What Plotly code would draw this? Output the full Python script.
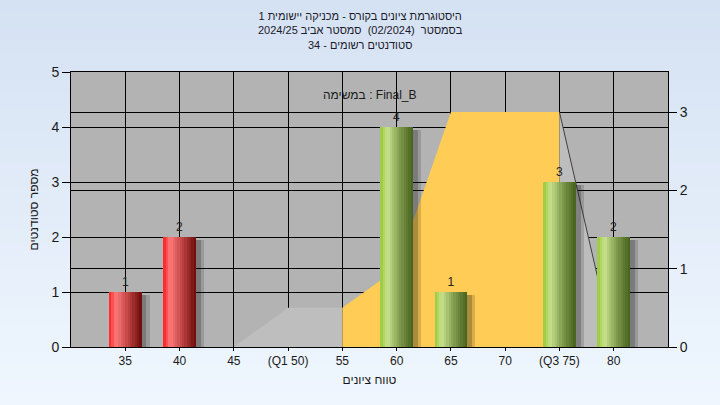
import plotly.graph_objects as go
from plotly.colors import sample_colorscale

# ---------------- data ----------------
grade_bins = [35, 40, 45, 50, 55, 60, 65, 70, 75, 80]
tick_labels = ["35", "40", "45", "(Q1 50)", "55", "60", "65", "70", "(Q3 75)", "80"]
student_counts = [1, 2, 0, 0, 0, 4, 1, 0, 3, 2]
bar_group = ["fail", "fail", "fail", "fail", "fail", "pass", "pass", "pass", "pass", "pass"]

dist_x = [45, 50, 55, 60, 65, 70, 75, 80]
dist_y = [0, 0.5, 0.5, 1, 3, 3, 3, 0]
band_low, band_high = 55, 75

title_lines = [
    "היסטוגרמת ציונים בקורס - מכניקה יישומית 1",
    "בסמסטר \u00a0(02/2024) \u00a0סמסטר אביב 2024/25",
    "סטודנטים רשומים - 34",
]
task_label = "במשימה : Final_B"
y_title = "מספר סטודנטים"
x_title = "טווח ציונים"

# ---------------- styling ----------------
FONT = "Arial, Liberation Sans, DejaVu Sans, sans-serif"
W, H = 720, 405
ML, MR, MT, MB = 71, 52, 72, 58
BAR_W = 3.0
N_STRIPES = 14

red_scale = [[0, "#ff1c1c"], [0.2, "#ff7b7b"], [0.55, "#c44848"], [1, "#6c0a0a"]]
green_scale = [[0, "#98c838"], [0.22, "#c8e28e"], [0.6, "#7e9a4c"], [1, "#45601c"]]

fig = go.Figure()

# distribution area on primary axis 'y' (drawn on the right side)
lo = dist_x.index(band_low)
hi = dist_x.index(band_high)
fig.add_trace(go.Scatter(x=dist_x[:lo + 1], y=dist_y[:lo + 1], mode="lines",
                         fill="tozeroy", fillcolor="#bebebe",
                         line=dict(color="rgba(0,0,0,0)", width=0),
                         hoverinfo="skip", showlegend=False, yaxis="y"))
fig.add_trace(go.Scatter(x=dist_x[lo:hi + 1], y=dist_y[lo:hi + 1], mode="lines",
                         fill="tozeroy", fillcolor="#ffcc55",
                         line=dict(color="rgba(0,0,0,0)", width=0),
                         hoverinfo="skip", showlegend=False, yaxis="y"))
fig.add_trace(go.Scatter(x=dist_x[hi:], y=dist_y[hi:], mode="lines",
                         fill="tozeroy", fillcolor="#bdbdbd",
                         line=dict(color="#404040", width=1),
                         hoverinfo="skip", showlegend=False, yaxis="y"))

# bar shadows
for off, alpha in [(-1.5 + 0.75, 0.16), (-1.5 + 0.45, 0.22)]:
    fig.add_trace(go.Bar(x=grade_bins, y=[max(v - 0.06, 0) for v in student_counts],
                         offset=off, width=BAR_W,
                         marker=dict(color=f"rgba(20,20,20,{alpha})", line=dict(width=0)),
                         hoverinfo="skip", showlegend=False, yaxis="y2"))

# gradient bars drawn as thin stripes
sw = BAR_W / N_STRIPES
for i in range(N_STRIPES):
    t = (i + 0.5) / N_STRIPES
    rc = sample_colorscale(red_scale, [t])[0]
    gc = sample_colorscale(green_scale, [t])[0]
    cols = [rc if g == "fail" else gc for g in bar_group]
    fig.add_trace(go.Bar(x=grade_bins, y=student_counts,
                         offset=-BAR_W / 2 + i * sw, width=sw * 1.08,
                         marker=dict(color=cols, line=dict(width=0)),
                         hoverinfo="skip", showlegend=False, yaxis="y2"))

# value labels
fig.add_trace(go.Bar(x=grade_bins, y=student_counts,
                     width=BAR_W,
                     text=[str(v) if v else "" for v in student_counts],
                     textposition="outside", cliponaxis=False,
                     textfont=dict(family=FONT, size=12, color="#222222"),
                     marker=dict(color="rgba(0,0,0,0)", line=dict(width=0)),
                     hoverinfo="skip", showlegend=False, yaxis="y2"))

# background gradient + gray plot area
pw, ph = W - ML - MR, H - MT - MB
x0p, x1p = -ML / pw, 1 + MR / pw
y0p, y1p = -MB / ph, 1 + MT / ph
shapes = []
NB = 30
top_c = (213, 226, 243)
bot_c = (239, 246, 254)
for k in range(NB):
    f = k / (NB - 1)
    c = tuple(round(top_c[j] + (bot_c[j] - top_c[j]) * f) for j in range(3))
    ya = y1p - (y1p - y0p) * k / NB
    yb = y1p - (y1p - y0p) * (k + 1) / NB
    shapes.append(dict(type="rect", xref="paper", yref="paper", x0=x0p, x1=x1p,
                       y0=yb - 0.002, y1=ya + 0.002, layer="below",
                       fillcolor=f"rgb{c}", line=dict(width=0)))
shapes.append(dict(type="rect", xref="paper", yref="paper", x0=0, x1=1, y0=0, y1=1,
                   layer="below", fillcolor="#b3b3b3", line=dict(width=0)))

fig.update_layout(
    width=W, height=H,
    margin=dict(l=ML, r=MR, t=MT, b=MB),
    paper_bgcolor="#e4edf8", plot_bgcolor="#b3b3b3",
    barmode="overlay", bargap=0,
    showlegend=False,
    font=dict(family=FONT, size=12, color="#1a1a1a"),
    shapes=shapes,
    xaxis=dict(range=[30, 85], tickvals=grade_bins, ticktext=tick_labels,
               showgrid=True, gridcolor="black", gridwidth=1,
               showline=True, linecolor="black", linewidth=1, mirror=True,
               ticks="outside", ticklen=3, tickcolor="black",
               tickfont=dict(family=FONT, size=12, color="#1a1a1a"),
               title=dict(text=x_title, standoff=8,
                          font=dict(family=FONT, size=12, color="#1a1a1a")),
               zeroline=False),
    yaxis=dict(range=[0, 3.511], side="right", dtick=1, tick0=0,
               showgrid=True, gridcolor="black", gridwidth=1,
               showline=True, linecolor="black", linewidth=1,
               ticks="outside", ticklen=8, tickcolor="black",
               tickfont=dict(family=FONT, size=14, color="#1a1a1a"),
               zeroline=False),
    yaxis2=dict(range=[0, 5], overlaying="y", side="left", dtick=1, tick0=0,
                showgrid=True, gridcolor="black", gridwidth=1,
                showline=True, linecolor="black", linewidth=1,
                ticks="outside", ticklen=8, tickcolor="black",
                tickfont=dict(family=FONT, size=14, color="#1a1a1a"),
                title=dict(text=y_title, standoff=10,
                           font=dict(family=FONT, size=12, color="#1a1a1a")),
                zeroline=False),
    annotations=[dict(text="<br>".join(title_lines), xref="paper", yref="paper",
                      x=(W / 2 - ML) / pw, y=1 + (MT - 31) / ph,
                      xanchor="center", yanchor="middle", showarrow=False,
                      font=dict(family=FONT, size=11, color="#1a1a2a")),
                 dict(text=task_label, xref="paper", yref="paper",
                      x=0.5, y=0.949, showarrow=False,
                      font=dict(family=FONT, size=12, color="#1a1a1a"))],
)

fig.write_html("out.html", config={"displayModeBar": False},
               post_script="document.body.style.margin='0';document.body.style.padding='0';")
